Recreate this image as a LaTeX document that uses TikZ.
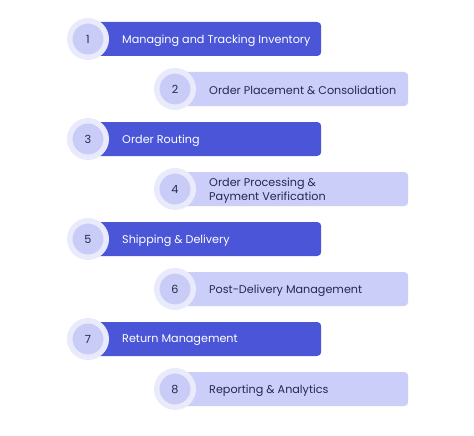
\documentclass[tikz,border=0pt]{standalone}
\usepackage{fontspec}
\setmainfont{Poppins}
\definecolor{darkbar}{HTML}{4A55D7}
\definecolor{lightbar}{HTML}{CBCEF9}
\definecolor{ringcol}{HTML}{E9EAFB}
\definecolor{discol}{HTML}{C9CCF6}
\definecolor{navy}{HTML}{25284F}
\begin{document}
\begin{tikzpicture}[x=1pt,y=-1pt, font=\fontsize{11.2}{14}\selectfont,
 bar/.style={rounded corners=4pt, minimum width=233pt, minimum height=34pt, anchor=west, inner sep=0pt},
 disc/.style={circle, draw=ringcol, line width=5.5pt, fill=discol, minimum size=36.5pt, inner sep=0pt, text=navy},
 steptext/.style={anchor=west, align=left, inner sep=0pt}]
\useasboundingbox (0,0) rectangle (474,436);
\foreach \i/\x/\bg/\fg/\txt in {1/88/darkbar/white/Managing and Tracking Inventory,
  2/175/lightbar/navy/Order Placement \& Consolidation,
  3/88/darkbar/white/Order Routing,
  4/175/lightbar/navy/{Order Processing \&\\Payment Verification},
  5/88/darkbar/white/Shipping \& Delivery,
  6/175/lightbar/navy/Post-Delivery Management,
  7/88/darkbar/white/Return Management,
  8/175/lightbar/navy/Reporting \& Analytics}
{
 \node[bar, fill=\bg] (b\i) at (\x,{39+50*(\i-1)}) {};
 \node[steptext, text=\fg] (t\i) at ([xshift=34pt,yshift=-1.5pt]b\i.west) {\txt};
 \node[disc] (c\i) at (b\i.west) {\i};
}
\end{tikzpicture}
\end{document}
